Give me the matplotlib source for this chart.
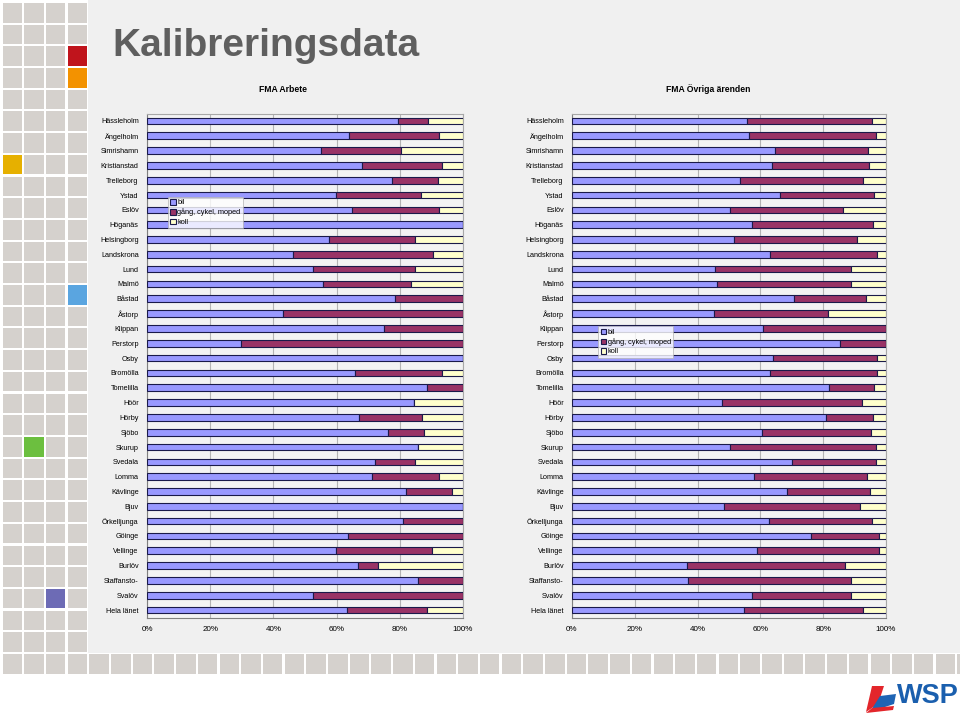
import matplotlib
matplotlib.use("Agg")
import matplotlib.pyplot as plt
from matplotlib.patches import Rectangle, Polygon
import numpy as np

plt.rcParams['font.family'] = ['Liberation Sans', 'DejaVu Sans']

categories = ["Hässleholm", "Ängelholm", "Simrishamn", "Kristianstad", "Trelleborg",
              "Ystad", "Eslöv", "Höganäs", "Helsingborg", "Landskrona", "Lund", "Malmö",
              "Båstad", "Åstorp", "Klippan", "Perstorp", "Osby", "Bromölla", "Tomelilla",
              "Höör", "Hörby", "Sjöbo", "Skurup", "Svedala", "Lomma", "Kävlinge", "Bjuv",
              "Örkelljunga", "Göinge", "Vellinge", "Burlöv", "Staffansto-", "Svalöv",
              "Hela länet"]

series_names = ["bil", "gång, cykel, moped", "koll"]

# FMA Arbete (percent)
arbete_bil = [79.4, 63.9, 55.0, 67.9, 77.6, 59.7, 64.9, 100.0, 57.5, 46.3, 52.6, 55.6,
              78.5, 42.9, 75.0, 29.9, 100.0, 65.7, 88.7, 84.5, 67.0, 76.3, 85.9, 72.2,
              71.2, 81.9, 100.0, 81.0, 63.6, 59.8, 66.9, 85.8, 52.4, 63.4]
arbete_gcm = [9.6, 28.6, 25.5, 25.6, 14.6, 26.9, 27.6, 0.0, 27.4, 44.3, 32.3, 28.0,
              21.5, 57.1, 25.0, 70.1, 0.0, 27.8, 11.3, 0.0, 19.9, 11.5, 0.0, 12.7,
              21.3, 14.6, 0.0, 19.0, 36.4, 30.5, 6.3, 14.2, 47.6, 25.1]
arbete_koll = [11.0, 7.5, 19.5, 6.5, 7.8, 13.4, 7.5, 0.0, 15.1, 9.4, 15.1, 16.4,
               0.0, 0.0, 0.0, 0.0, 0.0, 6.5, 0.0, 15.5, 13.1, 12.2, 14.1, 15.1,
               7.5, 3.5, 0.0, 0.0, 0.0, 9.7, 26.8, 0.0, 0.0, 11.5]

# FMA Övriga ärenden (percent)
ovriga_bil = [55.7, 56.4, 64.6, 63.7, 53.4, 66.1, 50.2, 57.2, 51.7, 63.2, 45.6, 46.1,
              70.6, 45.1, 60.8, 85.5, 64.1, 63.2, 81.7, 47.9, 81.0, 60.5, 50.3, 70.2,
              58.1, 68.6, 48.5, 62.7, 76.2, 58.9, 36.6, 36.9, 57.2, 54.9]
ovriga_gcm = [39.9, 40.5, 29.8, 30.9, 39.4, 30.2, 36.2, 38.7, 39.1, 34.0, 43.4, 42.9,
              23.1, 36.5, 39.2, 14.5, 33.1, 34.0, 14.6, 44.6, 14.9, 34.8, 46.4, 26.7,
              36.0, 26.3, 43.3, 32.8, 21.7, 39.0, 50.4, 52.1, 31.8, 37.7]
ovriga_koll = [4.4, 3.1, 5.6, 5.4, 7.2, 3.7, 13.6, 4.1, 9.2, 2.8, 11.0, 11.0,
               6.3, 18.4, 0.0, 0.0, 2.8, 2.8, 3.7, 7.5, 4.1, 4.7, 3.3, 3.1,
               5.9, 5.1, 8.2, 4.5, 2.1, 2.1, 13.0, 11.0, 11.0, 7.4]

xticks = [0, 20, 40, 60, 80, 100]
xtick_labels = ["0%", "20%", "40%", "60%", "80%", "100%"]

panel_titles = ["FMA Arbete", "FMA Övriga ärenden"]
main_title = "Kalibreringsdata"

colors = ["#9999ff", "#993366", "#ffffcc"]
edge = "#1a1a4a"

W, H = 960, 717
fig = plt.figure(figsize=(W / 100, H / 100), dpi=100)
fig.patch.set_facecolor("white")


def fr(x, y, w, h):
    """pixel box (top-left origin) -> figure fraction rect"""
    return (x / W, 1 - (y + h) / H, w / W, h / H)


# light-gray slide background
bx, by, bw, bh = fr(88, 0, W - 88, 653)
fig.patches.append(Rectangle((bx, by), bw, bh, transform=fig.transFigure,
                             facecolor="#f0f0f0", edgecolor="none", zorder=-3))

# decorative square grid
step = 21.7
sq = 19.5
special = {(2, 3): "#c0141c", (3, 3): "#f39200", (7, 0): "#e6b000",
           (13, 3): "#5aa5e0", (20, 1): "#6cbf3f", (27, 2): "#6d6bb5"}
for r in range(31):
    ncols = 4 if r < 30 else 45
    for c in range(ncols):
        x0 = 2.5 + c * step
        y0 = 3 + r * step
        if x0 > W:
            continue
        col = special.get((r, c), "#d5d1cd")
        rx, ry, rw, rh = fr(x0, y0, sq, sq)
        fig.patches.append(Rectangle((rx, ry), rw, rh, transform=fig.transFigure,
                                     facecolor=col, edgecolor="none", zorder=-2))

fig.text(112 / W, 1 - 46 / H, main_title, fontsize=28, fontweight="bold",
         color="#5f5f5f", ha="left", va="center")

panels = [
    (147, 316, (arbete_bil, arbete_gcm, arbete_koll), (0.066, 0.835), 283),
    (572, 314, (ovriga_bil, ovriga_gcm, ovriga_koll), (0.083, 0.578), 708),
]
top_px, bot_px = 113.5, 617.5
y = np.arange(len(categories))
for i, (left_px, width_px, data, legpos, title_x) in enumerate(panels):
    ax = fig.add_axes(fr(left_px, top_px, width_px, bot_px - top_px))
    ax.set_zorder(2)
    ax.set_facecolor("#f3f3f3")
    left = np.zeros(len(categories))
    for vals, col, name in zip(data, colors, series_names):
        vals = np.array(vals, dtype=float)
        ax.barh(y, vals, left=left, height=0.45, color=col, edgecolor=edge,
                linewidth=0.8, label=name, zorder=3)
        left = left + vals
    ax.set_xlim(0, 100)
    ax.set_ylim(len(categories) - 0.5, -0.5)
    ax.set_yticks(y)
    ax.set_yticklabels(categories, fontsize=5.2)
    ax.set_xticks(xticks)
    ax.set_xticklabels(xtick_labels, fontsize=5.8)
    ax.tick_params(axis="x", length=0, pad=6)
    ax.tick_params(axis="y", length=0, pad=6)
    ax.xaxis.grid(True, color="#b4b4b4", linewidth=0.8, zorder=0)
    for s in ["top", "right"]:
        ax.spines[s].set_color("#a8a8a8")
        ax.spines[s].set_linewidth(0.8)
    for s in ["left", "bottom"]:
        ax.spines[s].set_color("#808080")
        ax.spines[s].set_linewidth(0.8)
    leg = ax.legend(loc="upper left", bbox_to_anchor=legpos, fontsize=5.3,
                    frameon=True, fancybox=False, handlelength=0.75,
                    handleheight=0.75, handletextpad=0.2, borderpad=0.35,
                    labelspacing=0.3, borderaxespad=0)
    leg.get_frame().set_facecolor("white")
    leg.get_frame().set_edgecolor("#b0b0b0")
    leg.get_frame().set_linewidth(0.6)
    leg.set_zorder(5)
    fig.text(title_x / W, 1 - 89 / H, panel_titles[i], fontsize=6.2, fontweight="bold",
             ha="center", va="center", color="black")

# WSP logo
def poly(pts, col):
    p = [(x / W, 1 - yy / H) for x, yy in pts]
    fig.patches.append(Polygon(p, closed=True, transform=fig.transFigure,
                               facecolor=col, edgecolor="none", zorder=2))

poly([(872, 686), (884, 686), (878, 704), (866, 712)], "#e3262b")
poly([(880, 696), (896, 694), (894, 704), (870, 712)], "#1e64b4")
poly([(872, 708), (894, 706), (893, 710), (866, 713)], "#e3262b")
fig.text(928 / W, 1 - 696 / H, "WSP", fontsize=19.5, fontweight="bold",
         color="#1a5fae", ha="center", va="center")

fig.savefig("out.png", dpi=100, facecolor=fig.get_facecolor())
